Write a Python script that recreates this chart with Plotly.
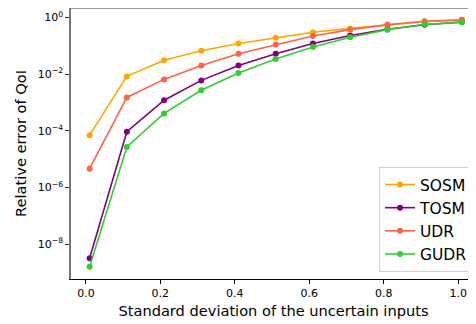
import plotly.graph_objects as go

sigma = [0.01, 0.11, 0.21, 0.31, 0.41, 0.51, 0.61, 0.71, 0.81, 0.91, 1.01]
sosm = [7e-5, 8.3e-3, 3.1e-2, 6.7e-2, 0.12, 0.19, 0.30, 0.41, 0.55, 0.71, 0.81]
tosm = [3.2e-9, 9.3e-5, 1.2e-3, 6e-3, 0.02, 0.052, 0.12, 0.23, 0.38, 0.55, 0.69]
udr = [4.6e-6, 1.5e-3, 6.5e-3, 0.02, 0.052, 0.11, 0.22, 0.37, 0.55, 0.73, 0.83]
gudr = [1.6e-9, 2.7e-5, 4.1e-4, 2.7e-3, 0.011, 0.034, 0.091, 0.20, 0.37, 0.57, 0.67]

series = [("SOSM", sosm, "#FFA500"), ("TOSM", tosm, "#800080"),
          ("UDR", udr, "#FF6347"), ("GUDR", gudr, "#32CD32")]

xtick_vals = [0.0, 0.2, 0.4, 0.6, 0.8, 1.0]
xtick_text = ["0.0", "0.2", "0.4", "0.6", "0.8", "1.0"]
ytick_vals = [1e-8, 1e-6, 1e-4, 1e-2, 1e0]
ytick_text = ["10<sup>−8</sup>", "10<sup>−6</sup>", "10<sup>−4</sup>", "10<sup>−2</sup>", "10<sup>0</sup>"]

fig = go.Figure()
for name, vals, col in series:
    fig.add_trace(go.Scatter(x=sigma, y=vals, name=name, mode="lines+markers",
                             line=dict(color=col, width=1.6),
                             marker=dict(color=col, size=6)))

font = "DejaVu Sans"
fig.update_layout(
    width=468, height=316,
    margin=dict(l=63, r=0, t=0, b=45),
    plot_bgcolor="white", paper_bgcolor="white",
    font=dict(family=font, size=12, color="black"),
    legend=dict(x=0.9926, y=0.026, xanchor="right", yanchor="bottom",
                bgcolor="white", bordercolor="#d0d0d0", borderwidth=1,
                itemwidth=30, tracegroupgap=0,
                font=dict(size=15.5, family=font)),
    xaxis=dict(range=[-0.04, 1.048], tickvals=xtick_vals, ticktext=xtick_text,
               showgrid=False, zeroline=False, showline=True, linecolor="black",
               linewidth=1, ticks="outside", ticklen=4, tickcolor="black",
               tickfont=dict(size=11),
               title=dict(text="Standard deviation of the uncertain inputs",
                          font=dict(size=14.6), standoff=6)),
    yaxis=dict(type="log", range=[-9.23, 0.332], tickvals=ytick_vals, ticktext=ytick_text,
               showgrid=False, zeroline=False, showline=True, linecolor="#777",
               linewidth=1.5, ticks="outside", ticklen=4, tickcolor="#333",
               tickfont=dict(size=11),
               title=dict(text="Relative error of QoI", font=dict(size=14.6), standoff=8)),
)
fig.add_shape(type="line", xref="paper", yref="paper", x0=0, x1=1, y0=1, y1=1,
              line=dict(color="#777", width=1.5))
fig.write_html("out.html")
